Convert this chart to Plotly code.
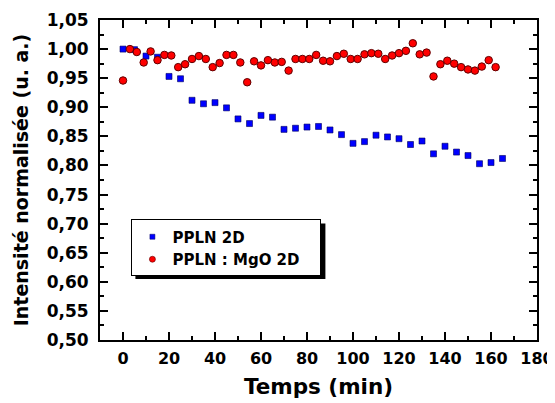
import plotly.graph_objects as go

# Data
t_ppln = [0, 5, 10, 15, 20, 25, 30, 35, 40, 45, 50, 55, 60, 65, 70, 75, 80, 85,
          90, 95, 100, 105, 110, 115, 120, 125, 130, 135, 140, 145, 150, 155, 160, 165]
i_ppln = [1.000, 0.999, 0.988, 0.986, 0.953, 0.949, 0.912, 0.906, 0.908, 0.899,
          0.880, 0.872, 0.886, 0.883, 0.862, 0.864, 0.866, 0.867, 0.861, 0.853,
          0.838, 0.841, 0.852, 0.849, 0.846, 0.836, 0.842, 0.820, 0.833, 0.823,
          0.817, 0.803, 0.805, 0.812]

t_mgo = [0, 3, 6, 9, 12, 15, 18, 21, 24, 27, 30, 33, 36, 39, 42, 45, 48, 51, 54,
         57, 60, 63, 66, 69, 72, 75, 78, 81, 84, 87, 90, 93, 96, 99, 102, 105,
         108, 111, 114, 117, 120, 123, 126, 129, 132, 135, 138, 141, 144, 147,
         150, 153, 156, 159, 162]
i_mgo = [0.946, 1.000, 0.995, 0.977, 0.996, 0.981, 0.990, 0.989, 0.969, 0.974,
         0.983, 0.988, 0.983, 0.969, 0.976, 0.990, 0.990, 0.977, 0.943, 0.979,
         0.972, 0.981, 0.977, 0.978, 0.963, 0.983, 0.983, 0.983, 0.990, 0.980,
         0.979, 0.988, 0.992, 0.983, 0.983, 0.991, 0.993, 0.992, 0.983, 0.989,
         0.993, 0.997, 1.010, 0.991, 0.994, 0.953, 0.974, 0.980, 0.975, 0.969,
         0.965, 0.963, 0.970, 0.981, 0.969]

name_ppln = "PPLN 2D"
name_mgo = "PPLN : MgO 2D"

x_range = [-10, 180]
y_range = [0.50, 1.05]

FONT = "DejaVu Sans"
BLUE = "#0000ff"
RED = "#ff0000"
PAD = "\u00a0\u00a0\u00a0"

fig = go.Figure()

# data traces
fig.add_trace(go.Scatter(
    x=t_ppln, y=i_ppln, mode="markers", showlegend=False,
    marker=dict(symbol="square", size=6, color=BLUE,
                line=dict(color="#000060", width=0.6)),
))
fig.add_trace(go.Scatter(
    x=t_mgo, y=i_mgo, mode="markers", showlegend=False,
    marker=dict(symbol="circle", size=7.5, color=RED,
                line=dict(color="#600000", width=1)),
))

# legend-only traces with small symbols
fig.add_trace(go.Scatter(
    x=[None], y=[None], mode="markers", name=name_ppln,
    marker=dict(symbol="square", size=5, color=BLUE,
                line=dict(color="#000060", width=0.5)),
))
fig.add_trace(go.Scatter(
    x=[None], y=[None], mode="markers", name=name_mgo + PAD,
    marker=dict(symbol="circle", size=6, color=RED,
                line=dict(color="#600000", width=0.6)),
))

# legend shadow
fig.add_shape(type="rect", xref="paper", yref="paper",
              x0=0.081, x1=0.5158, y0=0.1903, y1=0.3641,
              fillcolor="black", line=dict(width=0), layer="above")

axis_common = dict(
    showline=True, linecolor="black", linewidth=2, mirror="allticks",
    ticks="inside", ticklen=8, tickwidth=1.5, tickcolor="black",
    showgrid=False, zeroline=False,
)

fig.update_xaxes(
    range=x_range, dtick=20, tick0=0,
    minor=dict(dtick=10, ticks="inside", ticklen=4, tickwidth=1.5, tickcolor="black"),
    title=dict(text="Temps (min)", font=dict(family=FONT, size=21.5, color="black", weight="bold"),
               standoff=12),
    tickfont=dict(family=FONT, size=16, color="black", weight="bold"),
    ticklabelstandoff=3, ticklabeloverflow="allow",
    **axis_common,
)
fig.update_yaxes(
    range=y_range, dtick=0.05, tick0=0.5, tickformat=".2f",
    minor=dict(dtick=0.025, ticks="inside", ticklen=4, tickwidth=1.5, tickcolor="black"),
    title=dict(text="Intensité normalisée (u. a.)",
               font=dict(family=FONT, size=19, color="black", weight="bold"), standoff=13),
    tickfont=dict(family=FONT, size=17, color="black", weight="bold"),
    ticklabelstandoff=6,
    **axis_common,
)

fig.update_layout(
    width=555, height=395,
    margin=dict(l=92.3, r=25.7, t=11.5, b=63, autoexpand=False),
    plot_bgcolor="white", paper_bgcolor="white",
    separators=", ",
    legend=dict(
        x=0.0719, y=0.3766, xanchor="left", yanchor="top",
        bgcolor="white", bordercolor="black", borderwidth=1,
        font=dict(family=FONT, size=15, color="black", weight="bold"),
        tracegroupgap=0,
    ),
)

fig.write_html("out.html")
